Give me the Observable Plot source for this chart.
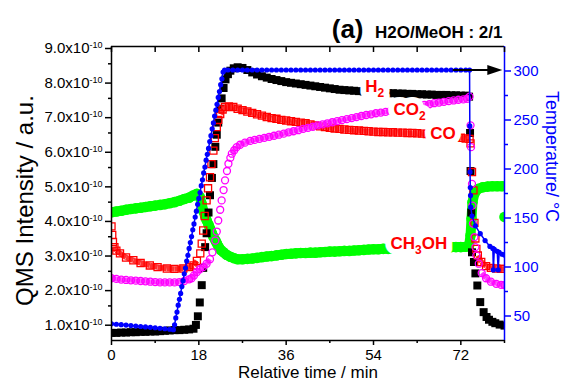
<!DOCTYPE html>
<html><head><meta charset="utf-8">
<script src="https://cdn.jsdelivr.net/npm/d3@7"></script>
<script src="https://cdn.jsdelivr.net/npm/@observablehq/plot@0.6"></script>
<style>body{margin:0;background:#fff}</style>
</head><body><div id="chart"></div>
<script>
// ---- axes / ticks ----
const xDomain = [0, 81];
const yDomain = [0.5, 9];          // x 1e-10
const tDomain = [25, 325];         // temperature (°C)
const xMajor = [0, 18, 36, 54, 72];
const xMinor = [9, 27, 45, 63, 81];
const xTop = [0, 9, 18, 27, 36, 45, 54, 63, 72, 81];
const yMajor = [1, 2, 3, 4, 5, 6, 7, 8, 9];
const yMinor = [1.5, 2.5, 3.5, 4.5, 5.5, 6.5, 7.5, 8.5];
const tMajor = [50, 100, 150, 200, 250, 300];
const tMinor = [75, 125, 175, 225, 275];
const xTitle = "Relative time / min";
const yTitle = "QMS Intensity / a.u.";
const tTitle = "Temperature/ °C";
const panelTag = "(a)";
const panelText = "H2O/MeOH : 2/1";

// ---- series: [time (min), intensity (x1e-10)] ----
const h2 = [[0,0.72],[1,0.72],[2,0.73],[3,0.73],[4,0.74],[5,0.74],[6,0.75],[7,0.75],[8,0.76],[9,0.76],[10,0.77],[11,0.78],[12,0.79],[13,0.8],[14,0.8],[15,0.81],[16,0.82],[16.9,0.84],[17.4,0.95],[17.8,1.2],[18.2,1.6],[18.6,2.1],[18.9,2.6],[19.3,3.2],[19.6,3.6],[20.0,4.2],[20.3,4.7],[20.7,5.2],[21.0,5.6],[21.4,6.1],[21.7,6.45],[22.0,6.8],[22.4,7.2],[22.7,7.5],[23.1,7.8],[23.5,8.05],[24.0,8.2],[24.5,8.3],[25.2,8.37],[26,8.4],[27,8.38],[28,8.32],[29,8.25],[30,8.19],[31,8.14],[32,8.1],[33,8.06],[34,8.03],[35,8.0],[36,7.97],[37,7.95],[38,7.93],[39,7.91],[40,7.89],[41,7.87],[42,7.85],[43,7.83],[44,7.81],[45,7.79],[46,7.77],[47,7.75],[48,7.74],[49,7.73],[50,7.72],[51,7.71],[52,7.7],[53,7.69],[54,7.68],[55,7.67],[56,7.66],[57,7.65],[58,7.65],[59,7.64],[60,7.64],[61,7.63],[62,7.63],[63,7.62],[64,7.62],[65,7.61],[66,7.61],[67,7.6],[68,7.6],[69,7.6],[70,7.59],[71,7.59],[72,7.58],[73,7.58],[73.7,7.55],[73.9,6.5],[74.0,5.4],[74.15,4.2],[74.3,3.05],[74.7,2.77],[75.0,2.44],[75.4,2.09],[76.0,1.61],[76.7,1.32],[77.3,1.18],[77.8,1.1],[78.5,1.04],[79.1,1.0],[80,0.96],[81,0.93]];

const co = [[0,3.8],[0.15,3.55],[0.3,3.35],[0.6,3.2],[1.0,3.1],[1.75,3.02],[3,2.9],[4.5,2.82],[6,2.74],[7.9,2.67],[9.5,2.62],[11.4,2.58],[13,2.57],[14.8,2.58],[16,2.62],[16.9,2.67],[17.6,2.8],[18.3,3.02],[18.6,3.3],[18.9,3.68],[19.2,4.1],[19.6,4.55],[19.9,4.9],[20.3,5.22],[20.6,5.6],[21.0,5.99],[21.3,6.35],[21.7,6.67],[22.0,6.88],[22.4,7.05],[22.9,7.18],[23.4,7.25],[24.2,7.27],[25.1,7.25],[26,7.2],[27,7.16],[28,7.12],[29,7.08],[30,7.04],[31,7.0],[32,6.96],[33,6.93],[34,6.91],[35,6.88],[36,6.86],[37,6.84],[38,6.82],[39,6.8],[40,6.78],[41,6.75],[42,6.72],[43,6.69],[44,6.67],[45,6.65],[46,6.63],[47,6.62],[48,6.6],[49,6.59],[50,6.58],[51,6.57],[52,6.56],[53,6.55],[54,6.54],[55,6.53],[56,6.53],[57,6.52],[58,6.52],[59,6.51],[60,6.51],[61,6.5],[62,6.5],[63,6.49],[64,6.48],[65,6.47],[66,6.45],[67,6.44],[68,6.42],[69,6.41],[70,6.4],[71,6.38],[72,6.36],[73,6.34],[73.8,6.33],[74.0,6.2],[74.3,5.37],[74.6,4.84],[74.8,3.9],[75.0,3.45],[75.2,3.15],[75.5,2.96],[76.2,2.77],[77.2,2.65],[78.2,2.6],[79.3,2.58],[80.3,2.57],[81,2.57]];

const co2 = [[0,2.3],[1,2.28],[2,2.26],[3,2.25],[4,2.24],[5,2.23],[6,2.22],[7,2.21],[8,2.2],[9,2.19],[10,2.18],[11,2.18],[12,2.18],[13,2.18],[14,2.19],[15,2.22],[16,2.27],[16.5,2.3],[17,2.38],[17.6,2.48],[18.2,2.56],[18.9,2.62],[19.6,2.72],[20.3,2.85],[20.8,3.05],[21.4,3.39],[21.7,3.65],[22.0,3.97],[22.4,4.28],[22.7,4.55],[23.1,4.85],[23.4,5.13],[23.8,5.4],[24.1,5.61],[24.5,5.78],[24.8,5.9],[25.3,6.0],[25.8,6.09],[26.5,6.16],[27.5,6.22],[28.6,6.27],[29.5,6.3],[30.5,6.33],[31.5,6.36],[32.5,6.39],[33.5,6.42],[34.5,6.45],[35.5,6.48],[36.5,6.52],[37.5,6.55],[38.5,6.58],[39.5,6.62],[40.5,6.65],[41.5,6.68],[42.5,6.72],[43.5,6.75],[44.5,6.78],[45.5,6.81],[46.5,6.84],[47.5,6.87],[48.5,6.9],[49.5,6.93],[50.5,6.96],[51.5,6.99],[52.5,7.02],[53.5,7.04],[54.5,7.07],[55.5,7.09],[56.5,7.11],[57.5,7.14],[58.5,7.16],[59.5,7.19],[60.5,7.21],[61.5,7.24],[62.5,7.26],[63.5,7.29],[64.5,7.31],[65.5,7.33],[66.5,7.36],[67.5,7.38],[68.5,7.4],[69.5,7.42],[70.5,7.44],[71.5,7.46],[72.5,7.47],[73.3,7.49],[73.8,7.55],[74.0,6.72],[74.1,6.09],[74.3,5.03],[74.4,4.4],[74.5,3.88],[74.8,3.49],[75.0,3.2],[75.2,2.96],[75.7,2.72],[76.3,2.45],[77.2,2.3],[78.2,2.2],[79.3,2.14],[80.3,2.11],[81,2.1]];

const ch3oh = [[0,4.21],[1,4.23],[2,4.25],[3,4.28],[4,4.3],[5,4.32],[6,4.34],[7,4.36],[8,4.38],[9,4.4],[10,4.42],[11,4.44],[12,4.47],[13,4.5],[14,4.54],[15,4.59],[16,4.63],[16.8,4.69],[17.6,4.74],[18.2,4.65],[18.6,4.45],[18.9,4.25],[19.3,4.1],[19.6,3.98],[20.0,3.85],[20.3,3.74],[20.7,3.6],[21.0,3.5],[21.4,3.4],[21.7,3.31],[22.1,3.2],[22.5,3.12],[23.1,3.05],[23.7,2.98],[24.5,2.92],[25.3,2.88],[26,2.85],[27,2.85],[28,2.86],[29,2.87],[30,2.89],[31,2.91],[32,2.93],[33,2.94],[34,2.96],[35,2.98],[36,3.0],[37,3.01],[38,3.02],[39,3.03],[40,3.03],[41,3.04],[42,3.04],[43,3.05],[44,3.06],[45,3.07],[46,3.07],[47,3.08],[48,3.09],[49,3.09],[50,3.1],[51,3.11],[52,3.12],[53,3.13],[54,3.14],[55,3.14],[56,3.15],[57,3.15],[58,3.16],[59,3.16],[60,3.17],[61,3.17],[62,3.18],[63,3.18],[64,3.18],[65,3.19],[66,3.19],[67,3.19],[68,3.2],[69,3.2],[70,3.2],[71,3.2],[72,3.2],[73,3.21],[73.7,3.25],[74.0,3.54],[74.2,4.02],[74.4,4.5],[74.8,4.75],[75.5,4.88],[76.5,4.93],[77.5,4.95],[78.5,4.96],[79.5,4.96],[80.5,4.96]];
const ch3ohLast = [[81, 4.07]];

// temperature: [time (min), °C]
const temp = [[0,42],[1,41.6],[2,41.1],[3,40.7],[4,40.2],[5,39.8],[6,39.3],[7,38.9],[8,38.4],[9,38],[10,37.5],[11,37],[12,36.5],[12.75,36],[13,41],[13.25,48],[13.5,54],[13.75,61],[14,67],[14.25,73],[14.5,80],[14.75,86],[15,93],[15.25,99],[15.5,106],[15.75,112],[16,119],[16.25,125],[16.5,131],[16.75,138],[17,144],[17.25,151],[17.5,157],[17.75,164],[18,170],[18.25,176],[18.5,183],[18.75,189],[19,196],[19.25,202],[19.5,209],[19.75,215],[20,221],[20.25,228],[20.5,234],[20.75,241],[21,247],[21.25,254],[21.5,260],[21.75,266],[22,273],[22.25,279],[22.5,286],[22.75,292],[23,299],[23.3,301],[24,301],[25,301],[26,301],[27,301],[28,301],[29,301],[30,301],[31,301],[32,301],[33,301],[34,301],[35,301],[36,301],[37,301],[38,301],[39,301],[40,301],[41,301],[42,301],[43,301],[44,301],[45,301],[46,301],[47,301],[48,301],[49,301],[50,301],[51,301],[52,301],[53,301],[54,301],[55,301],[56,301],[57,301],[58,301],[59,301],[60,301],[61,301],[62,301],[63,301],[64,301],[65,301],[66,301],[67,301],[68,301],[69,301],[70,301],[71,301],[72,301],[73,301],[73.8,301],[73.85,244],[73.9,197],[73.95,181],[74.0,173],[74.05,161],[74.3,152],[75.0,142],[76,134],[77,127],[78,121],[78.6,119],[78.7,97],[78.9,118],[79.5,116],[79.7,97],[79.9,115],[80.5,113],[81,112]];

// annotation arrow along the 300 °C hold: [time, °C]
const arrow = [[70.5,301],[79.0,301]];

// series labels
const labelText = ["H_2", "CO_2", "CO", "CH_3OH"];
const labelT = [52.3, 58.1, 65.7, 57.5];
const labelV = [7.68, 7.01, 6.32, 3.15];

// ---- build ----
const toLeft = T => yDomain[0] + (T - tDomain[0]) / (tDomain[1] - tDomain[0]) * (yDomain[1] - yDomain[0]);
const pts = a => a.map(([t, v]) => ({t, v}));
const tpts = a => a.map(([t, T]) => ({t, v: toLeft(T)}));
// segments between consecutive readings on the slowly varying stretches (dense marker bands)
const band = (a, maxSlope) => d3.pairs(a)
  .filter(([p, q]) => Math.abs(q[1] - p[1]) / (q[0] - p[0]) < maxSlope)
  .map(([p, q]) => ({t1: p[0], v1: p[1], t2: q[0], v2: q[1]}));
const labels = labelText.map((s, i) => ({s, t: labelT[i], v: labelV[i]}));
const headSymbol = {draw(ctx) { ctx.moveTo(-7.5, -5); ctx.lineTo(7.5, 0); ctx.lineTo(-7.5, 5); ctx.closePath(); }};
const font = "'Liberation Sans', Arial, Helvetica, sans-serif";
const labelStyle = {x: "t", y: "v", text: "s", textAnchor: "start", lineAnchor: "bottom", fontSize: 17, fontWeight: "bold"};

const chart = Plot.plot({
  width: 561, height: 381,
  marginLeft: 111, marginRight: 57, marginTop: 46, marginBottom: 41,
  style: {fontFamily: font, fontSize: "15px", background: "white", overflow: "visible"},
  x: {domain: xDomain},
  y: {domain: yDomain},
  marks: [
    Plot.line(pts(ch3oh), {x: "t", y: "v", stroke: "#00ff00", strokeWidth: 10, strokeLinejoin: "round", strokeLinecap: "round", clip: true}),
    Plot.dot(pts(ch3oh).concat(pts(ch3ohLast)), {x: "t", y: "v", r: 5.3, fill: "#00ff00", clip: true}),
    Plot.dot(pts(h2), {x: "t", y: "v", symbol: "square", r: 4.5, fill: "black", clip: true}),
    Plot.link(band(co, 0.3), {x1: "t1", y1: "v1", x2: "t2", y2: "v2", stroke: "#ff3030", strokeWidth: 5.5, clip: true}),
    Plot.dot(pts(co), {x: "t", y: "v", symbol: "square", r: 4, stroke: "#ff0000", fill: "none", strokeWidth: 1.3, clip: true}),
    Plot.link(band(co2, 0.3), {x1: "t1", y1: "v1", x2: "t2", y2: "v2", stroke: "#ff30ff", strokeWidth: 5, clip: true}),
    Plot.dot(pts(co2), {x: "t", y: "v", r: 3.5, stroke: "#ff00ff", fill: "none", strokeWidth: 1.3, clip: true}),
    Plot.line(tpts(temp), {x: "t", y: "v", stroke: "blue", strokeWidth: 1.5, clip: true}),
    Plot.dot(tpts(temp), {x: "t", y: "v", r: 2.6, fill: "blue", clip: true}),
    Plot.line(tpts(arrow), {x: "t", y: "v", stroke: "black", strokeWidth: 2.2}),
    Plot.dot(tpts(arrow).slice(-1), {x: "t", y: "v", symbol: headSymbol, fill: "black"}),
    Plot.text(labels, {...labelStyle, fill: "white", stroke: "white", strokeWidth: 12, strokeLinejoin: "round"}),
    Plot.text(labels, {...labelStyle, fill: "#ff0000"}),
    // frame
    Plot.ruleX([xDomain[0]], {strokeWidth: 1.5}),
    Plot.ruleY([yDomain[0]], {strokeWidth: 1.5}),
    Plot.ruleY([yDomain[1]], {strokeWidth: 1.5}),
    Plot.ruleX([xDomain[1]], {stroke: "blue", strokeWidth: 1.5}),
    // axes
    Plot.axisX(xMajor, {anchor: "bottom", tickSize: 5, tickPadding: 4, fontSize: 15, strokeWidth: 1.5, label: null}),
    Plot.axisX(xMinor, {anchor: "bottom", tickSize: 3, tickFormat: () => "", strokeWidth: 1.5, label: null}),
    Plot.axisX(xTop, {anchor: "top", tickSize: -5, tickFormat: () => "", strokeWidth: 1.5, label: null}),
    Plot.axisY(yMajor, {anchor: "left", tickSize: 6, tickPadding: 3, dy: 2, fontSize: 15, strokeWidth: 1.5, tickFormat: d => d.toFixed(1) + "x10", label: null}),
    Plot.axisY(yMinor, {anchor: "left", tickSize: 3, tickFormat: () => "", strokeWidth: 1.5, label: null}),
    Plot.axisY(tMajor, {anchor: "right", y: toLeft, tickSize: 6, tickPadding: 3, fontSize: 15, color: "blue", strokeWidth: 1.5, tickFormat: d => String(d), label: null}),
    Plot.axisY(tMinor, {anchor: "right", y: toLeft, tickSize: 3, color: "blue", strokeWidth: 1.5, tickFormat: () => "", label: null}),
    // titles
    Plot.text([xTitle], {text: d => d, frameAnchor: "bottom", dy: 37.3, lineAnchor: "bottom", fontSize: 17}),
    Plot.text([yTitle], {text: d => d, frameAnchor: "left", rotate: -90, dx: -79, dy: 7, textAnchor: "middle", lineAnchor: "bottom", fontSize: 24}),
    Plot.text([tTitle], {text: d => d, frameAnchor: "right", rotate: 90, dx: 41, dy: -37, textAnchor: "middle", lineAnchor: "bottom", fontSize: 18, fill: "blue"}),
    Plot.text([panelTag], {text: d => d, frameAnchor: "top-right", dx: -141, dy: -9, textAnchor: "end", lineAnchor: "bottom", fontSize: 26, fontWeight: "bold"}),
    Plot.text([panelText], {text: d => d, frameAnchor: "top-right", dx: -2, dy: -9, textAnchor: "end", lineAnchor: "bottom", fontSize: 17, fontWeight: "bold"})
  ]
});

// superscripts on the left tick labels, subscripts on the series labels; drop empty minor-tick labels
d3.select(chart).selectAll("text").each(function() {
  const s = this.textContent;
  if (s === "") { this.remove(); return; }
  if (/^\d\.\dx10$/.test(s)) {
    d3.select(this).append("tspan").attr("dy", -5).attr("font-size", 9).text("-10");
  } else if (s.includes("_")) {
    const el = d3.select(this);
    el.text(null);
    const parts = s.split(/_(\d)/);
    let down = false;
    parts.forEach((p, i) => {
      if (!p) return;
      if (i % 2 === 1) { el.append("tspan").attr("dy", 5).attr("font-size", 12).text(p); down = true; }
      else { const ts = el.append("tspan").text(p); if (down) { ts.attr("dy", -5); down = false; } }
    });
  }
});

document.getElementById("chart").append(chart);
</script>
</body></html>
